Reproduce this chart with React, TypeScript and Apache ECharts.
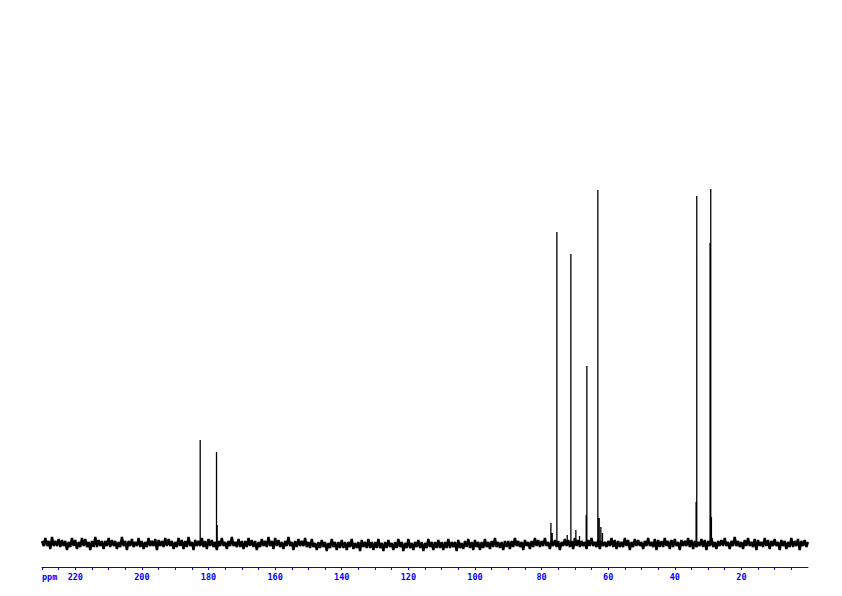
import React, { useEffect, useRef } from "react";
import * as echarts from "echarts";

// 13C NMR spectrum, ppm axis from 230 (left) to 0 (right)
const PPM_MAX = 230;
const PPM_MIN = 0;
const PPM_STEP = 0.5;

// Baseline noise (pixel-like intensity units), one value every 0.5 ppm from 230 down to 0
const NOISE: number[] = [
  3,-2,6,-2,3,-5,7,-2,3,-2,5,-3,4,-2,3,-6,2,-3,6,-2,
  4,-5,2,-3,6,-2,5,-3,2,-6,3,-3,7,-3,4,-2,3,-5,3,-2,
  6,-3,4,-2,3,-5,2,-3,7,-2,3,-6,3,-2,5,-3,2,-2,6,-3,
  3,-5,2,-3,6,-2,3,-2,5,-6,4,-2,3,-3,6,-2,5,-2,3,-5,
  2,-3,6,-2,4,-5,3,-3,7,-2,2,-6,4,-2,3,-2,6,-3,3,-5,
  5,-2,4,-3,2,-6,3,-2,6,-2,2,-5,3,-2,7,-2,2,-3,5,-3,
  3,-5,3,-3,6,-2,4,-3,3,-6,2,-3,5,-2,3,-3,7,-2,3,-5,
  6,-2,4,-3,2,-5,3,-2,7,-2,2,-6,3,-3,5,-2,3,-2,6,-3,
  2,-4,5,-3,1,-6,2,-4,4,-3,2,-7,1,-4,5,-3,2,-6,2,-4,
  4,-4,2,-6,2,-3,5,-5,1,-4,2,-7,4,-3,2,-4,5,-4,2,-6,
  2,-4,5,-4,1,-7,2,-4,4,-3,1,-6,2,-4,5,-3,2,-7,1,-4,
  5,-4,1,-6,2,-3,4,-4,2,-7,1,-4,5,-3,2,-6,2,-4,4,-4,
  2,-6,2,-4,5,-4,2,-3,2,-7,4,-4,1,-5,3,-3,5,-4,2,-6,
  4,-3,2,-6,2,-4,5,-3,2,-5,3,-3,6,-3,2,-4,2,-6,3,-3,
  3,-5,3,-3,6,-2,3,-3,2,-6,4,-2,2,-5,3,-3,6,-2,4,-3,
  3,-2,6,-2,2,-5,3,-2,4,-3,3,-6,2,-2,5,-2,4,-3,3,-5,
  6,-2,4,-3,3,-2,2,-5,4,-2,6,-2,2,-3,4,-5,3,-2,2,-3,
  3,-2,6,-3,4,-5,3,-3,2,-3,6,-2,4,-6,2,-3,5,-2,4,-2,
  2,-5,3,-2,6,-2,2,-3,5,-6,4,-3,3,-3,6,-2,3,-5,4,-3,
  5,-2,2,-6,4,-2,3,-2,6,-3,4,-5,3,-3,2,-2,5,-3,4,-6,
  3,-2,6,-3,2,-5,3,-2,4,-2,6,-2,2,-5,3,-2,7,-2,3,-3,
  2,-5,4,-2,6,-2,2,-3,5,-6,4,-2,2,-3,6,-2,4,-5,3,-2,
  5,-2,2,-6,4,-2,3,-5,2,-3,6,-3,3,-2,5,-6,3,-2,4,-3,
  2,
];

// Peaks: chemical shift (ppm) and height (same units as the noise)
const PEAK_PPM: number[] = [182.5, 177.6, 177.4, 77.2, 76.8, 75.4, 72.3, 71.2, 69.7, 68.6, 66.6, 66.4, 63.1, 62.7, 62.2, 61.7, 33.6, 33.4, 29.4, 29.2, 29.0];
const PEAK_H: number[] = [104, 92, 19, 21, 11, 312, 9, 290, 14, 8, 29, 178, 354, 26, 17, 11, 42, 348, 301, 355, 27];

const TICK_VALUES: number[] = [5, 10, 15, 20, 25, 30, 35, 40, 45, 50, 55, 60, 65, 70, 75, 80, 85, 90, 95, 100, 105, 110, 115, 120, 125, 130, 135, 140, 145, 150, 155, 160, 165, 170, 175, 180, 185, 190, 195, 200, 205, 210, 215, 220, 225, 230];
const LABEL_VALUES: number[] = [20, 40, 60, 80, 100, 120, 140, 160, 180, 200, 220];

const BLUE = "#0000ff";

export default function App() {
  const ref = useRef<HTMLDivElement>(null);

  useEffect(() => {
    if (!ref.current) return;
    const chart = echarts.init(ref.current, null, { renderer: "svg" });

    const noisePts: number[][] = NOISE.map((v, i) => [PPM_MAX - PPM_STEP * i, v]);
    const peakPts: (number[] | null)[] = [];
    PEAK_PPM.forEach((p, i) => {
      peakPts.push([p, 0], [p, PEAK_H[i]]);
      peakPts.push(null as any);
    });

    chart.setOption({
      animation: false,
      backgroundColor: "#ffffff",
      grid: { left: 42, right: 34, top: 144, bottom: 29 },
      xAxis: {
        type: "value",
        inverse: true,
        min: PPM_MIN,
        max: PPM_MAX,
        axisLine: { show: true, onZero: false, lineStyle: { color: BLUE, width: 1 } },
        axisTick: { show: true, length: 3, customValues: TICK_VALUES, lineStyle: { color: BLUE, width: 1 } },
        axisLabel: {
          show: true,
          customValues: LABEL_VALUES,
          color: BLUE,
          fontSize: 8.5,
          fontWeight: "bold",
          fontFamily: "DejaVu Sans Mono",
          margin: 5,
        },
        splitLine: { show: false },
      },
      yAxis: {
        type: "value",
        min: -23,
        max: 400,
        show: false,
        splitLine: { show: false },
      },
      graphic: [
        {
          type: "text",
          left: 42,
          top: 572,
          style: { text: "ppm", fill: BLUE, fontSize: 8.5, fontWeight: "bold", fontFamily: "DejaVu Sans Mono" },
        },
      ],
      series: [
        {
          type: "line",
          data: noisePts,
          showSymbol: false,
          symbol: "none",
          lineStyle: { color: "#000000", width: 2.4 },
          silent: true,
        },
        {
          type: "line",
          data: peakPts,
          showSymbol: false,
          symbol: "none",
          connectNulls: false,
          lineStyle: { color: "#000000", width: 1.3 },
          silent: true,
        },
      ],
    });

    return () => chart.dispose();
  }, []);

  return (
    <div
      ref={ref}
      style={{ position: "absolute", left: 0, top: 0, width: 842, height: 596 }}
    />
  );
}
